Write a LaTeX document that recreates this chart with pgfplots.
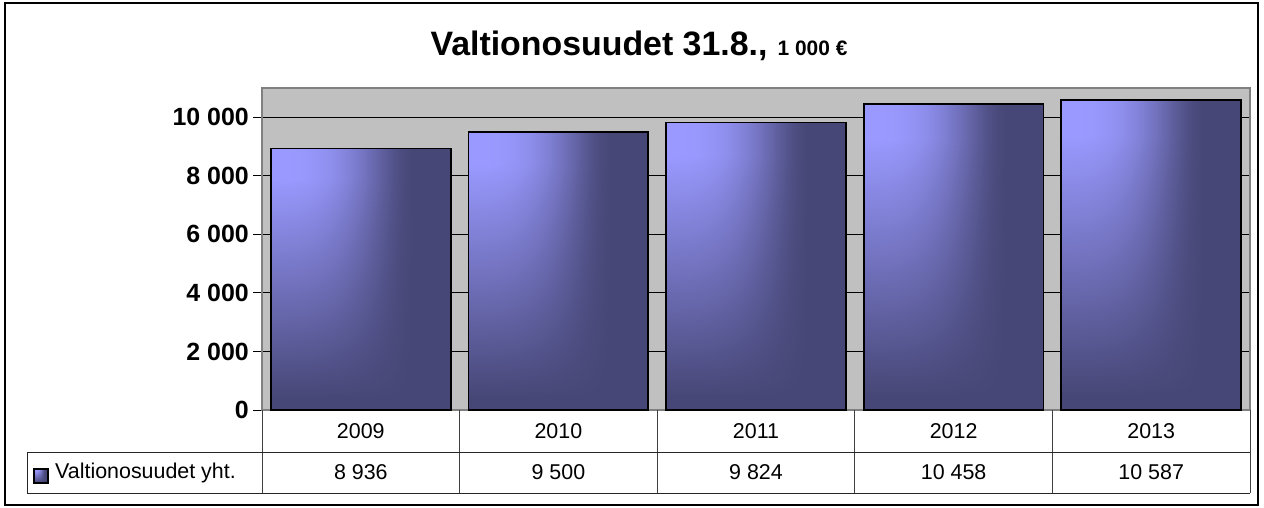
\documentclass[border=0pt]{standalone}
\usepackage{pgfplots}
\pgfplotsset{compat=1.18}
\usepackage{fontspec}
\setmainfont{Liberation Sans}
\definecolor{bardark}{HTML}{474777}
\definecolor{plotbg}{HTML}{C0C0C0}
\definecolor{frameg}{HTML}{808080}
\pgfdeclarefunctionalshading{barfun}{\pgfpoint{0bp}{0bp}}{\pgfpoint{100bp}{100bp}}{}{
  25 sub 50 div 0.05 sub 1.2 mul dup 1 gt {pop 1} if dup 0 lt {pop 0} if
  exch 25 sub 50 div 0.8 div dup 0 lt {pop 0} if dup 1 gt {pop 1} if
  dup dup mul mul 1 exch sub dup mul
  mul
  dup 82 mul 71 add 255 div exch
  dup 82 mul 71 add 255 div exch
  136 mul 119 add 255 div
}
\pgfplotsset{barstyle/.style={ybar, bar width=0.91, bar shift=0pt, draw=black, line width=1.8bp, shade, shading=barfun}}
\begin{document}
\begin{tikzpicture}[x=1bp,y=1bp]
\useasboundingbox (0,0) rectangle (1264,-508);
\draw[black, line width=1.2bp] (5,-3) rectangle (1258,-505);
\node[font=\bfseries\fontsize{34}{40}\selectfont, anchor=base] at (639,-56) {Valtionosuudet 31.8.,\hspace{0.3em}{\fontsize{21}{25}\selectfont 1 000 €}};
\begin{axis}[
  at={(262bp,-410bp)}, anchor=south west,
  width=988bp, height=322bp, scale only axis,
  xmin=-0.5, xmax=4.5, ymin=0, ymax=11000,
  scaled y ticks=false,
  axis background/.style={fill=plotbg},
  axis line style={draw=frameg, line width=1.2bp},
  xtick=\empty,
  ytick={0,2000,4000,6000,8000,10000},
  yticklabels={0,2 000,4 000,6 000,8 000,10 000},
  yticklabel style={font=\bfseries\fontsize{25}{29}\selectfont, inner sep=2bp, xshift=-2bp},
  ytick pos=left,
  tick align=outside, major tick length=9bp,
  tick style={black, line width=1bp},
  ymajorgrids, grid style={black, line width=1bp},
]
\addplot[barstyle] coordinates {(0,8936)};
\addplot[barstyle] coordinates {(1,9500)};
\addplot[barstyle] coordinates {(2,9824)};
\addplot[barstyle] coordinates {(3,10458)};
\addplot[barstyle] coordinates {(4,10587)};
\end{axis}
% data table below the axis
\foreach \k in {0,1,2,3,4,5} {
  \draw[black!75, line width=1bp] ({262+197.6*\k},-410) -- ({262+197.6*\k},-493);
}
\draw[black!85, line width=1bp] (27,-452) -- (1250,-452);
\draw[black!85, line width=1bp] (27,-493) -- (1250,-493);
\draw[black!85, line width=1bp] (27,-452) -- (27,-493);
\path[shade, shading=barfun, draw=black, line width=1.2bp] (34,-469) rectangle (48,-483);
\node[anchor=west, font=\fontsize{21.5}{25}\selectfont, inner sep=0pt] at (55,-472.5) {Valtionosuudet yht.};
\foreach \y/\v [count=\i from 0] in {2009/8 936,2010/9 500,2011/9 824,2012/10 458,2013/10 587} {
  \node[font=\fontsize{21.5}{25}\selectfont] at ({360.8+197.6*\i},-431) {\y};
  \node[font=\fontsize{21.5}{25}\selectfont] at ({360.8+197.6*\i},-472.5) {\v};
}
\end{tikzpicture}
\end{document}
